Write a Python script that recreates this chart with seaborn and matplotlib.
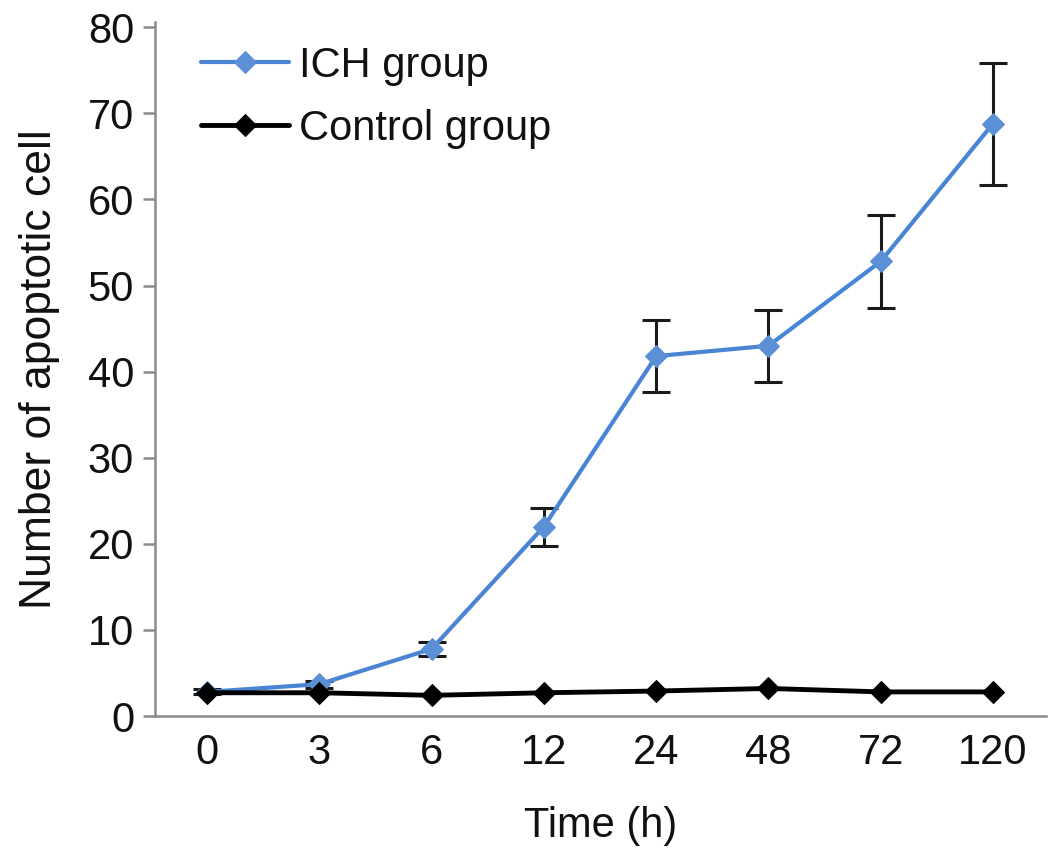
import matplotlib
matplotlib.use('Agg')
import matplotlib.pyplot as plt
import pandas as pd
import seaborn as sns

# data
times = ['0', '3', '6', '12', '24', '48', '72', '120']
ich_mean = [2.8, 3.7, 7.8, 22.0, 41.8, 43.0, 52.8, 68.8]
ich_err = [0.3, 0.4, 0.8, 2.2, 4.2, 4.2, 5.4, 7.1]
control_mean = [2.7, 2.7, 2.4, 2.7, 2.9, 3.2, 2.8, 2.8]

ich = pd.DataFrame({'time': times, 'value': ich_mean})
ctrl = pd.DataFrame({'time': times, 'value': control_mean})

sns.set_style('white')
plt.rcParams['font.family'] = ['Liberation Sans', 'DejaVu Sans']
plt.rcParams['text.color'] = '#111111'
plt.rcParams['axes.labelcolor'] = '#111111'
plt.rcParams['xtick.labelcolor'] = '#111111'
plt.rcParams['ytick.labelcolor'] = '#111111'

fig = plt.figure(figsize=(10.63, 8.61), dpi=100)
ax = fig.add_axes([0.1458, 0.1684, 0.838, 0.806])

# error bars first so the markers sit on top
ax.errorbar(times, ich_mean, yerr=ich_err, fmt='none', ecolor='#1a1a1a',
            elinewidth=2.2, capsize=10, capthick=2.2, zorder=2)

sns.lineplot(data=ich, x='time', y='value', color='#4a84d4', marker='D',
             markersize=11, markerfacecolor='#5b8fd6', markeredgecolor='#5b8fd6',
             linewidth=3, label='ICH group', ax=ax, zorder=3)
sns.lineplot(data=ctrl, x='time', y='value', color='black', marker='D',
             markersize=11, markeredgecolor='black',
             linewidth=3.5, label='Control group', ax=ax, zorder=4)

ax.set_xlim(-0.465, 7.47)
ax.set_ylim(0, 80.6)
ax.set_yticks(range(0, 81, 10))

for s in ['top', 'right']:
    ax.spines[s].set_visible(False)
for s in ['left', 'bottom']:
    ax.spines[s].set_color('#8c8c8c')
    ax.spines[s].set_linewidth(1.8)

ax.tick_params(axis='y', direction='out', length=9, width=1.8, color='#8c8c8c',
               labelsize=30, pad=6, left=True)
ax.tick_params(axis='x', length=0, labelsize=30, pad=12)

ax.set_xlabel('Time (h)', fontsize=30, labelpad=24)
ax.set_ylabel('Number of apoptotic cell', fontsize=32, labelpad=20)

leg = ax.legend(loc='upper left', frameon=False, fontsize=30,
                handlelength=2.1, handletextpad=0.25, labelspacing=0.55,
                bbox_to_anchor=(0.01, 1.02))

fig.savefig('out.png', dpi=100)
